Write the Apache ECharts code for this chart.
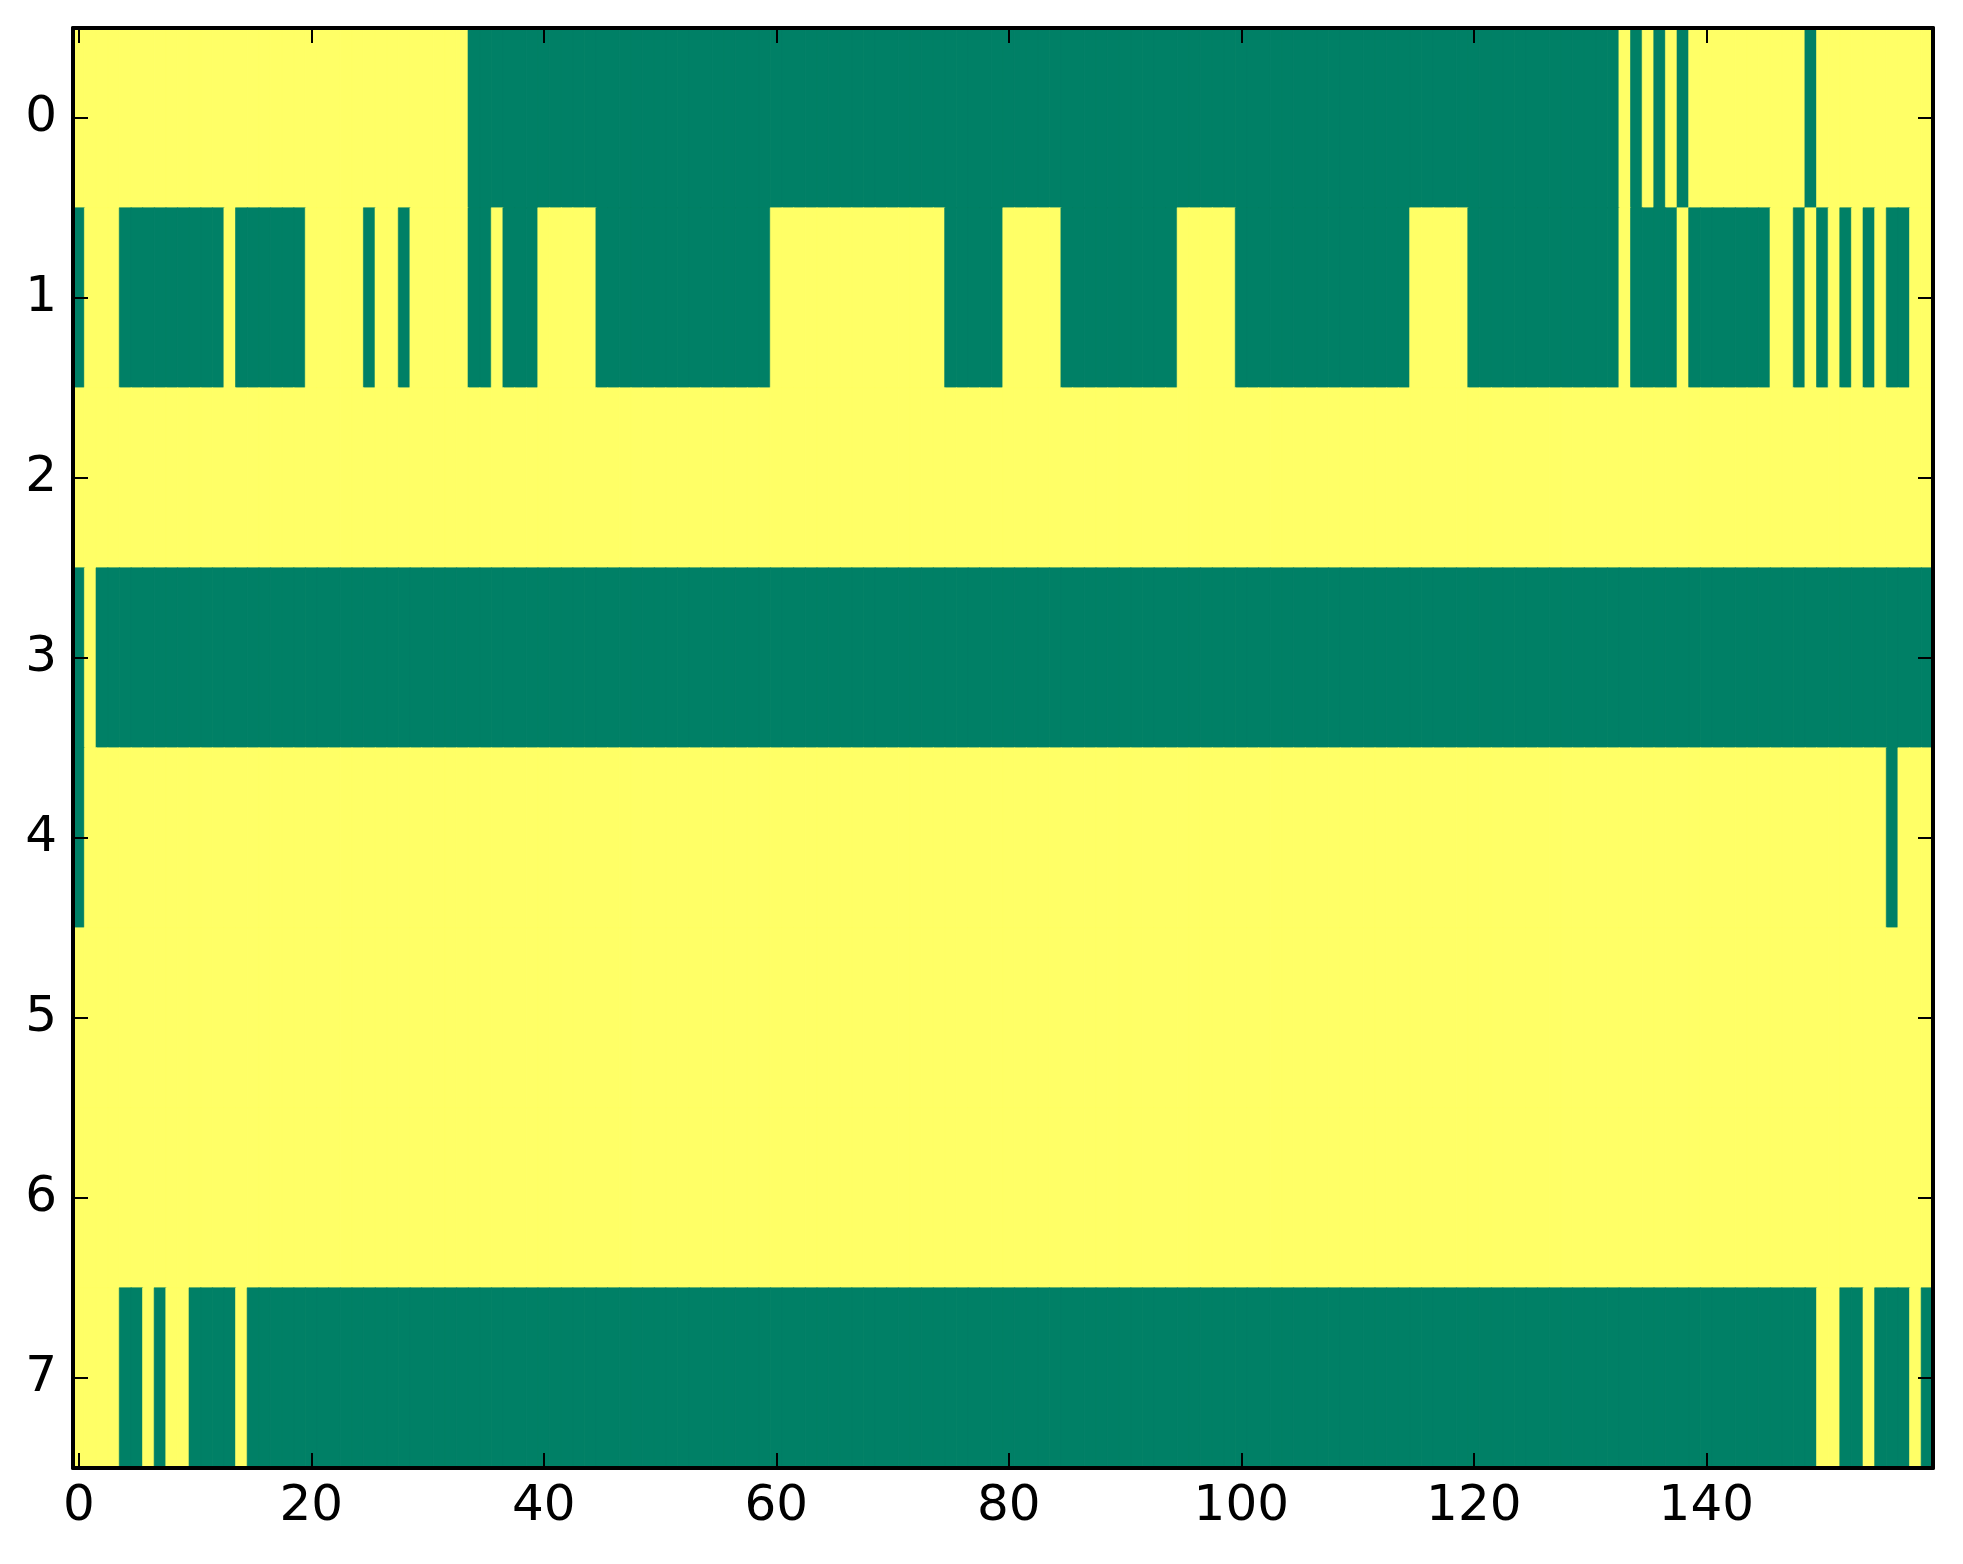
<!DOCTYPE html>
<html>
<head>
<meta charset="utf-8">
<script src="https://cdn.jsdelivr.net/npm/echarts@6/dist/echarts.min.js"></script>
<style>
html,body{margin:0;padding:0;background:#fff;}
#chart{width:1963px;height:1564px;}
</style>
</head>
<body>
<div id="chart"></div>
<script>
// 1 = high value (yellow), 0 = low value (green)
var row0 = [1,1,1,1,1,1,1,1,1,1, 1,1,1,1,1,1,1,1,1,1, 1,1,1,1,1,1,1,1,1,1, 1,1,1,1,0,0,0,0,0,0,
            0,0,0,0,0,0,0,0,0,0, 0,0,0,0,0,0,0,0,0,0, 0,0,0,0,0,0,0,0,0,0, 0,0,0,0,0,0,0,0,0,0,
            0,0,0,0,0,0,0,0,0,0, 0,0,0,0,0,0,0,0,0,0, 0,0,0,0,0,0,0,0,0,0, 0,0,0,0,0,0,0,0,0,0,
            0,0,0,0,0,0,0,0,0,0, 0,0,0,1,0,1,0,1,0,1, 1,1,1,1,1,1,1,1,1,0, 1,1,1,1,1,1,1,1,1,1];
var row1 = [0,1,1,1,0,0,0,0,0,0, 0,0,0,1,0,0,0,0,0,0, 1,1,1,1,1,0,1,1,0,1, 1,1,1,1,0,0,1,0,0,0,
            1,1,1,1,1,0,0,0,0,0, 0,0,0,0,0,0,0,0,0,0, 1,1,1,1,1,1,1,1,1,1, 1,1,1,1,1,0,0,0,0,0,
            1,1,1,1,1,0,0,0,0,0, 0,0,0,0,0,1,1,1,1,1, 0,0,0,0,0,0,0,0,0,0, 0,0,0,0,0,1,1,1,1,1,
            0,0,0,0,0,0,0,0,0,0, 0,0,0,1,0,0,0,0,1,0, 0,0,0,0,0,0,1,1,0,1, 0,1,0,1,0,1,0,0,1,1];
var row2 = [1,1,1,1,1,1,1,1,1,1, 1,1,1,1,1,1,1,1,1,1, 1,1,1,1,1,1,1,1,1,1, 1,1,1,1,1,1,1,1,1,1,
            1,1,1,1,1,1,1,1,1,1, 1,1,1,1,1,1,1,1,1,1, 1,1,1,1,1,1,1,1,1,1, 1,1,1,1,1,1,1,1,1,1,
            1,1,1,1,1,1,1,1,1,1, 1,1,1,1,1,1,1,1,1,1, 1,1,1,1,1,1,1,1,1,1, 1,1,1,1,1,1,1,1,1,1,
            1,1,1,1,1,1,1,1,1,1, 1,1,1,1,1,1,1,1,1,1, 1,1,1,1,1,1,1,1,1,1, 1,1,1,1,1,1,1,1,1,1];
var row3 = [0,1,0,0,0,0,0,0,0,0, 0,0,0,0,0,0,0,0,0,0, 0,0,0,0,0,0,0,0,0,0, 0,0,0,0,0,0,0,0,0,0,
            0,0,0,0,0,0,0,0,0,0, 0,0,0,0,0,0,0,0,0,0, 0,0,0,0,0,0,0,0,0,0, 0,0,0,0,0,0,0,0,0,0,
            0,0,0,0,0,0,0,0,0,0, 0,0,0,0,0,0,0,0,0,0, 0,0,0,0,0,0,0,0,0,0, 0,0,0,0,0,0,0,0,0,0,
            0,0,0,0,0,0,0,0,0,0, 0,0,0,0,0,0,0,0,0,0, 0,0,0,0,0,0,0,0,0,0, 0,0,0,0,0,0,0,0,0,0];
var row4 = [0,1,1,1,1,1,1,1,1,1, 1,1,1,1,1,1,1,1,1,1, 1,1,1,1,1,1,1,1,1,1, 1,1,1,1,1,1,1,1,1,1,
            1,1,1,1,1,1,1,1,1,1, 1,1,1,1,1,1,1,1,1,1, 1,1,1,1,1,1,1,1,1,1, 1,1,1,1,1,1,1,1,1,1,
            1,1,1,1,1,1,1,1,1,1, 1,1,1,1,1,1,1,1,1,1, 1,1,1,1,1,1,1,1,1,1, 1,1,1,1,1,1,1,1,1,1,
            1,1,1,1,1,1,1,1,1,1, 1,1,1,1,1,1,1,1,1,1, 1,1,1,1,1,1,1,1,1,1, 1,1,1,1,1,1,0,1,1,1];
var row5 = [1,1,1,1,1,1,1,1,1,1, 1,1,1,1,1,1,1,1,1,1, 1,1,1,1,1,1,1,1,1,1, 1,1,1,1,1,1,1,1,1,1,
            1,1,1,1,1,1,1,1,1,1, 1,1,1,1,1,1,1,1,1,1, 1,1,1,1,1,1,1,1,1,1, 1,1,1,1,1,1,1,1,1,1,
            1,1,1,1,1,1,1,1,1,1, 1,1,1,1,1,1,1,1,1,1, 1,1,1,1,1,1,1,1,1,1, 1,1,1,1,1,1,1,1,1,1,
            1,1,1,1,1,1,1,1,1,1, 1,1,1,1,1,1,1,1,1,1, 1,1,1,1,1,1,1,1,1,1, 1,1,1,1,1,1,1,1,1,1];
var row6 = [1,1,1,1,1,1,1,1,1,1, 1,1,1,1,1,1,1,1,1,1, 1,1,1,1,1,1,1,1,1,1, 1,1,1,1,1,1,1,1,1,1,
            1,1,1,1,1,1,1,1,1,1, 1,1,1,1,1,1,1,1,1,1, 1,1,1,1,1,1,1,1,1,1, 1,1,1,1,1,1,1,1,1,1,
            1,1,1,1,1,1,1,1,1,1, 1,1,1,1,1,1,1,1,1,1, 1,1,1,1,1,1,1,1,1,1, 1,1,1,1,1,1,1,1,1,1,
            1,1,1,1,1,1,1,1,1,1, 1,1,1,1,1,1,1,1,1,1, 1,1,1,1,1,1,1,1,1,1, 1,1,1,1,1,1,1,1,1,1];
var row7 = [1,1,1,1,0,0,1,0,1,1, 0,0,0,0,1,0,0,0,0,0, 0,0,0,0,0,0,0,0,0,0, 0,0,0,0,0,0,0,0,0,0,
            0,0,0,0,0,0,0,0,0,0, 0,0,0,0,0,0,0,0,0,0, 0,0,0,0,0,0,0,0,0,0, 0,0,0,0,0,0,0,0,0,0,
            0,0,0,0,0,0,0,0,0,0, 0,0,0,0,0,0,0,0,0,0, 0,0,0,0,0,0,0,0,0,0, 0,0,0,0,0,0,0,0,0,0,
            0,0,0,0,0,0,0,0,0,0, 0,0,0,0,0,0,0,0,0,0, 0,0,0,0,0,0,0,0,0,0, 1,1,0,0,1,0,0,0,1,0];
var rows = [row0, row1, row2, row3, row4, row5, row6, row7];
var rowLabels = ['0','1','2','3','4','5','6','7'];
var nCols = 160;
var colLabels = [];
for (var i = 0; i < nCols; i++) colLabels.push(String(i));

var LOW = '#008066', HIGH = '#ffff66';
var data = [];
rows.forEach(function (r, y) {
  r.forEach(function (v, x) {
    var c = v ? HIGH : LOW;
    data.push({ value: [x, y, v], itemStyle: { color: c, borderColor: c, borderWidth: 0.6 } });
  });
});

var font = 'DejaVu Sans';
var lineStyle = { color: '#000', width: 4 };
var tick = { show: true, inside: true, length: 15, lineStyle: { color: '#000', width: 2 } };

var chart = echarts.init(document.getElementById('chart'), null, { renderer: 'canvas' });
chart.setOption({
  backgroundColor: '#fff',
  animation: false,
  grid: { left: 73, right: 30, top: 28, bottom: 96 },
  xAxis: [
    { type: 'category', data: colLabels, position: 'bottom', boundaryGap: true,
      axisLine: { show: true, lineStyle: lineStyle },
      axisTick: Object.assign({ alignWithLabel: true, interval: 19 }, tick),
      axisLabel: { interval: 19, fontSize: 50, color: '#000', fontFamily: font, margin: 14 },
      splitLine: { show: false }, z: 10 },
    { type: 'category', data: colLabels, position: 'top', boundaryGap: true,
      axisLine: { show: true, lineStyle: lineStyle },
      axisTick: Object.assign({ alignWithLabel: true, interval: 19 }, tick),
      axisLabel: { show: false }, splitLine: { show: false }, z: 10 }
  ],
  yAxis: [
    { type: 'category', data: rowLabels, inverse: true, position: 'left', boundaryGap: true,
      axisLine: { show: true, lineStyle: lineStyle },
      axisTick: Object.assign({ alignWithLabel: true, interval: 0 }, tick),
      axisLabel: { interval: 0, fontSize: 50, color: '#000', fontFamily: font, margin: 16 },
      splitLine: { show: false }, z: 10 },
    { type: 'category', data: rowLabels, inverse: true, position: 'right', boundaryGap: true,
      axisLine: { show: true, lineStyle: lineStyle },
      axisTick: Object.assign({ alignWithLabel: true, interval: 0 }, tick),
      axisLabel: { show: false }, splitLine: { show: false }, z: 10 }
  ],
  series: [{
    type: 'heatmap',
    xAxisIndex: 0, yAxisIndex: 0,
    data: data,
    progressive: 0,
    emphasis: { disabled: true }
  }]
});
</script>
</body>
</html>
